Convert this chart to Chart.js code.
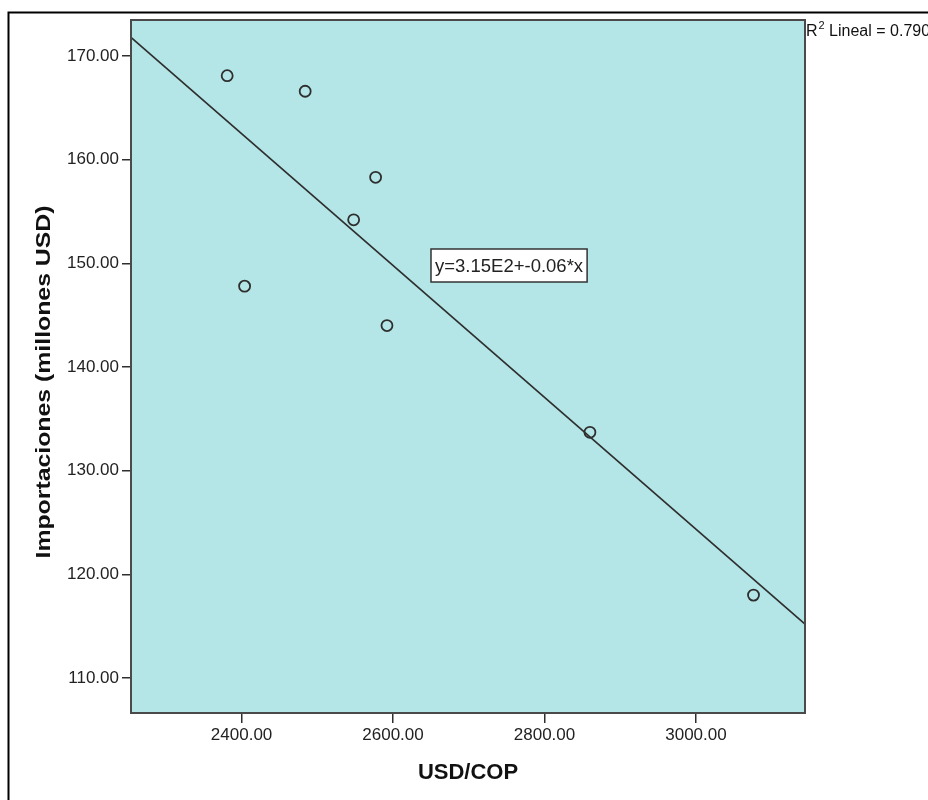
<!DOCTYPE html>
<html>
<head>
<meta charset="utf-8">
<script src="https://cdn.jsdelivr.net/npm/chart.js@4.4.1/dist/chart.umd.min.js"></script>
<style>
  html, body { margin: 0; padding: 0; background: #ffffff; }
  #wrap { width: 928px; height: 800px; position: relative; }
</style>
</head>
<body>
<div id="wrap"><canvas id="c" width="928" height="800"></canvas></div>
<script>
// ---- data ----
const usdCop   = [2381, 2484, 2577, 2548, 2404, 2592, 2860, 3076];
const imports  = [168.1, 166.6, 158.3, 154.2, 147.8, 144.0, 133.7, 118.0];
const fitX     = [2254, 3144];
const fitY     = [171.8, 115.2];
const xTicks   = [2400, 2600, 2800, 3000];
const yTicks   = [110, 120, 130, 140, 150, 160, 170];
const xTitle   = 'USD/COP';
const yTitle   = 'Importaciones (millones USD)';
const fitLabel = 'y=3.15E2+-0.06*x';
const r2Value  = '0.790';

const points = usdCop.map((x, i) => ({ x: x, y: imports[i] }));
const fitPts = fitX.map((x, i) => ({ x: x, y: fitY[i] }));

const FONT = '"Liberation Sans", Arial, sans-serif';
const INK = '#2e2e2e';

const decor = {
  id: 'decor',
  beforeDraw(chart) {
    const { ctx, chartArea: a } = chart;
    ctx.save();
    ctx.fillStyle = '#ffffff';
    ctx.fillRect(0, 0, chart.width, chart.height);
    ctx.fillStyle = '#b4e6e7';
    ctx.fillRect(a.left, a.top, a.right - a.left, a.bottom - a.top);
    ctx.restore();
  },
  afterDraw(chart) {
    const { ctx, chartArea: a } = chart;
    ctx.save();
    // outer frame (runs off the right and bottom edges)
    ctx.strokeStyle = '#000000';
    ctx.lineWidth = 2;
    ctx.beginPath();
    ctx.moveTo(8.5, 900);
    ctx.lineTo(8.5, 12.5);
    ctx.lineTo(1000, 12.5);
    ctx.stroke();
    // plot frame
    ctx.strokeStyle = '#4a4a4a';
    ctx.lineWidth = 2;
    ctx.strokeRect(a.left, a.top, a.right - a.left, a.bottom - a.top);

    // fit equation box
    ctx.font = '18.5px ' + FONT;
    const tw = ctx.measureText(fitLabel).width;
    const bx = 431, by = 249, bh = 33;
    const bw = tw + 8;
    ctx.fillStyle = '#ffffff';
    ctx.fillRect(bx, by, bw, bh);
    ctx.strokeStyle = '#333333';
    ctx.lineWidth = 1.5;
    ctx.strokeRect(bx, by, bw, bh);
    ctx.fillStyle = '#222222';
    ctx.textBaseline = 'middle';
    ctx.textAlign = 'left';
    ctx.fillText(fitLabel, bx + 4, by + bh / 2 + 1);

    // R2 label
    ctx.textBaseline = 'alphabetic';
    ctx.font = '16px ' + FONT;
    ctx.fillStyle = '#111111';
    ctx.fillText('R', 806, 36);
    let x = 806 + ctx.measureText('R').width;
    ctx.font = '11px ' + FONT;
    ctx.fillText('2', x + 1, 29);
    x += 1 + ctx.measureText('2').width;
    ctx.font = '16px ' + FONT;
    ctx.fillText(' Lineal = ' + r2Value, x, 36);

    // axis titles
    ctx.fillStyle = '#111111';
    ctx.font = 'bold 22px ' + FONT;
    ctx.textAlign = 'center';
    ctx.textBaseline = 'alphabetic';
    ctx.fillText(xTitle, (a.left + a.right) / 2, 779);
    ctx.save();
    ctx.translate(50, 382);
    ctx.rotate(-Math.PI / 2);
    ctx.font = 'bold 20px ' + FONT;
    const yw = ctx.measureText(yTitle).width;
    ctx.scale(353 / yw, 1);
    ctx.fillText(yTitle, 0, 0);
    ctx.restore();
    ctx.restore();
  }
};

new Chart(document.getElementById('c'), {
  type: 'scatter',
  data: {
    datasets: [
      {
        label: 'fit',
        type: 'line',
        data: fitPts,
        borderColor: INK,
        borderWidth: 1.6,
        pointRadius: 0,
        fill: false,
        tension: 0,
        order: 2
      },
      {
        label: 'obs',
        data: points,
        pointStyle: 'circle',
        pointRadius: 5.5,
        pointBorderWidth: 1.8,
        pointBorderColor: INK,
        pointBackgroundColor: 'rgba(0,0,0,0)',
        order: 1
      }
    ]
  },
  options: {
    responsive: false,
    animation: false,
    devicePixelRatio: 1,
    layout: { padding: { left: 0, top: 20, right: 123, bottom: 0 } },
    plugins: { legend: { display: false }, tooltip: { enabled: false }, title: { display: false } },
    scales: {
      x: {
        type: 'linear',
        min: 2254,
        max: 3144,
        afterFit: s => { s.height = 87; },
        afterBuildTicks: s => { s.ticks = xTicks.map(v => ({ value: v })); },
        grid: { drawOnChartArea: false, drawTicks: true, tickLength: 10, color: INK, lineWidth: 1.5 },
        border: { display: true, color: '#333', width: 2 },
        ticks: {
          color: '#222',
          font: { family: FONT, size: 17 },
          padding: 2,
          maxRotation: 0,
          callback: v => Number(v).toFixed(2)
        }
      },
      y: {
        type: 'linear',
        min: 106.63,
        max: 173.47,
        afterFit: s => { s.width = 131; },
        afterBuildTicks: s => { s.ticks = yTicks.map(v => ({ value: v })); },
        grid: { drawOnChartArea: false, drawTicks: true, tickLength: 9, color: INK, lineWidth: 1.5 },
        border: { display: true, color: '#333', width: 2 },
        ticks: {
          color: '#222',
          font: { family: FONT, size: 17 },
          padding: 3,
          callback: v => Number(v).toFixed(2)
        }
      }
    }
  },
  plugins: [decor]
});
</script>
</body>
</html>
